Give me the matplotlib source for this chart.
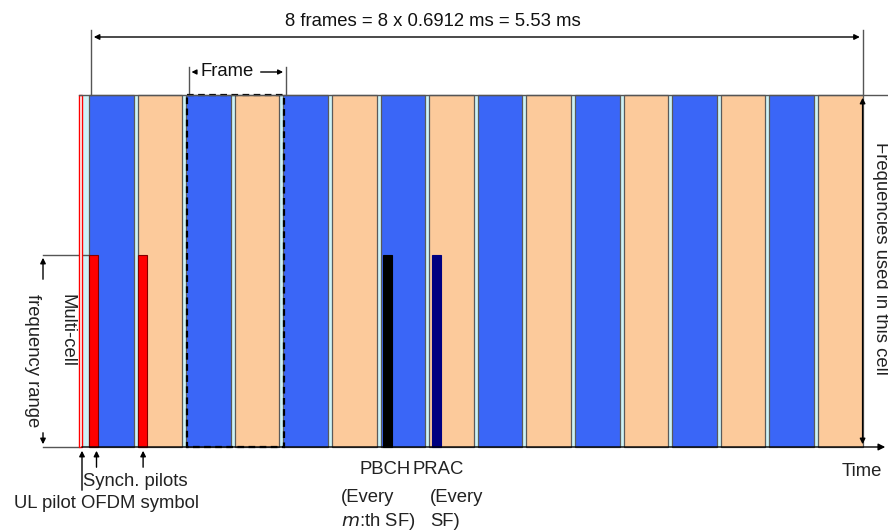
import matplotlib
matplotlib.use("Agg")
import matplotlib.pyplot as plt
from matplotlib.patches import Rectangle

# ---- data ----
n_frames = 8
frame_ms = 0.6912
subframes_per_frame = 2
subframe_kind = ["blue", "peach"] * n_frames          # alternating subframes
special_bars = ["Synch", "Pilots", "PBCH", "PRAC"]
special_sf = [0, 1, 6, 7]                             # subframe index holding each bar
special_col = ["#ff0000", "#ff0000", "#000000", "#000080"]
special_off = [4.0, 4.0, 6.5, 6.5]                    # offset inside subframe
frame_box_sf = 2                                      # subframe where the highlighted frame starts

# ---- layout ----
W, H = 888, 531
x0, sfw = 85.0, 48.6
guard = 4.0
top, bot = 95.0, 447.0
multi_top = 255.0
bar_w = 9.0
FS = 13.3
FONT = ["Liberation Sans", "DejaVu Sans"]
colmap = {"blue": "#3a66f7", "peach": "#fcca9b"}
guard_col = "#cdf3f7"
edge = "#5a5a5a"
TXT = "#222222"

fig = plt.figure(figsize=(W / 100, H / 100), dpi=100)
ax = fig.add_axes([0, 0, 1, 1])
ax.set_xlim(0, W)
ax.set_ylim(H, 0)
ax.axis("off")

n_sf = len(subframe_kind)
for i, kind in enumerate(subframe_kind):
    s = x0 + i * sfw
    gs = s if i > 0 else 81.0
    ax.add_patch(Rectangle((gs, top), s + guard - gs, bot - top, facecolor=guard_col,
                           edgecolor="none", zorder=1))
    ax.add_patch(Rectangle((s + guard, top), sfw - guard, bot - top, facecolor=colmap[kind],
                           edgecolor=edge, lw=0.9, zorder=2))

# UL pilot OFDM symbol (thin red)
ax.add_patch(Rectangle((79, top), 2.5, bot - top, facecolor="white", edgecolor="#ff0000",
                       lw=1.0, zorder=3))

# special bars
for name, sf, c, off in zip(special_bars, special_sf, special_col, special_off):
    s = x0 + sf * sfw + off
    ec = "#800000" if c == "#ff0000" else c
    ax.add_patch(Rectangle((s, multi_top), bar_w, bot - multi_top, facecolor=c,
                           edgecolor=ec, lw=0.8, zorder=4))

# frame dashed box
fs = x0 + frame_box_sf * sfw + guard + 0.5
fe = x0 + (frame_box_sf + subframes_per_frame) * sfw + guard + 0.5
ax.add_patch(Rectangle((fs, top), fe - fs, bot - top, facecolor="none", edgecolor="black",
                       lw=1.6, ls=(0, (3, 2)), zorder=5))

# top / bottom lines
ax.plot([79, W], [top, top], color="#555555", lw=1.0, zorder=6)
ax.annotate("", xy=(W, bot), xytext=(79, bot),
            arrowprops=dict(arrowstyle="-|>", color="black", lw=1.0, mutation_scale=10), zorder=6)

end_x = x0 + n_sf * sfw
# 8 frames arrow
ax.plot([91, 91], [30, top], color="#555555", lw=1.0)
ax.plot([end_x, end_x], [30, top], color="#555555", lw=1.0)
ax.annotate("", xy=(end_x, 37), xytext=(91, 37),
            arrowprops=dict(arrowstyle="<|-|>", color="black", lw=1.0, mutation_scale=8))
ax.text(433, 21,
        f"{n_frames} frames = {n_frames} x {frame_ms} ms = {n_frames * frame_ms:.2f} ms",
        ha="center", va="center", fontsize=FS, family=FONT, color="#111111")

# Frame label
ax.plot([fs + 2, fs + 2], [67, top], color="#555555", lw=1.0)
ax.plot([fe + 2, fe + 2], [67, top], color="#555555", lw=1.0)
ax.annotate("", xy=(fs + 2, 72), xytext=(fs + 12, 72),
            arrowprops=dict(arrowstyle="-|>", color="black", lw=1.0, mutation_scale=7))
ax.annotate("", xy=(fe + 2, 72), xytext=(fe - 26, 72),
            arrowprops=dict(arrowstyle="-|>", color="black", lw=1.0, mutation_scale=7))
ax.text(fs + 40, 72, "Frame", ha="center", va="center", fontsize=FS, family=FONT,
        color="#111111")

# right: frequencies used in this cell
ax.annotate("", xy=(end_x, top), xytext=(end_x, bot),
            arrowprops=dict(arrowstyle="<|-|>", color="black", lw=1.0, mutation_scale=8))
ax.text(880, 258, "Frequencies used in this cell", rotation=270, ha="center", va="center",
        fontsize=FS, family=FONT, color=TXT)
ax.text(862, 471, "Time", ha="center", va="center", fontsize=FS, family=FONT, color=TXT)

# left: multi-cell frequency range
ax.plot([43, x0 + 4], [multi_top, multi_top], color="#555555", lw=1.0)
ax.plot([43, 79], [bot, bot], color="#555555", lw=1.0)
ax.annotate("", xy=(43, multi_top), xytext=(43, 282),
            arrowprops=dict(arrowstyle="-|>", color="black", lw=1.0, mutation_scale=8))
ax.annotate("", xy=(43, bot), xytext=(43, 430),
            arrowprops=dict(arrowstyle="-|>", color="black", lw=1.0, mutation_scale=8))
ax.text(67, 294, "Multi-cell", rotation=270, ha="center", va="top", fontsize=FS,
        family=FONT, color=TXT)
ax.text(32, 294, "frequency range", rotation=270, ha="center", va="top", fontsize=FS,
        family=FONT, color=TXT)

# bottom pointers
syn_x = x0 + special_sf[0] * sfw + special_off[0] + bar_w / 2 + 3
pil_x = x0 + special_sf[1] * sfw + special_off[1] + bar_w / 2 + 1
for px, y_from in [(82, 493), (syn_x, 470), (pil_x, 470)]:
    ax.annotate("", xy=(px, bot + 1), xytext=(px, y_from),
                arrowprops=dict(arrowstyle="-|>", color="black", lw=1.0, mutation_scale=8))
ax.text(135, 481, "Synch. pilots", ha="center", va="center", fontsize=FS, family=FONT,
        color=TXT)
ax.text(106, 504, "UL pilot OFDM symbol", ha="center", va="center", fontsize=FS,
        family=FONT, color=TXT)

ax.text(385, 469, "PBCH", ha="center", va="center", fontsize=FS, family=FONT, color=TXT)
ax.text(438, 469, "PRAC", ha="center", va="center", fontsize=FS, family=FONT, color=TXT)
ax.text(341, 498, "(Every", ha="left", va="center", fontsize=FS, family=FONT, color=TXT)
ax.text(341, 521, r"$\mathit{m}$:th SF)", ha="left", va="center", fontsize=FS, family=FONT,
        color=TXT)
ax.text(430, 498, "(Every", ha="left", va="center", fontsize=FS, family=FONT, color=TXT)
ax.text(430, 521, "SF)", ha="left", va="center", fontsize=FS, family=FONT, color=TXT)

fig.savefig("out.png", dpi=100)
